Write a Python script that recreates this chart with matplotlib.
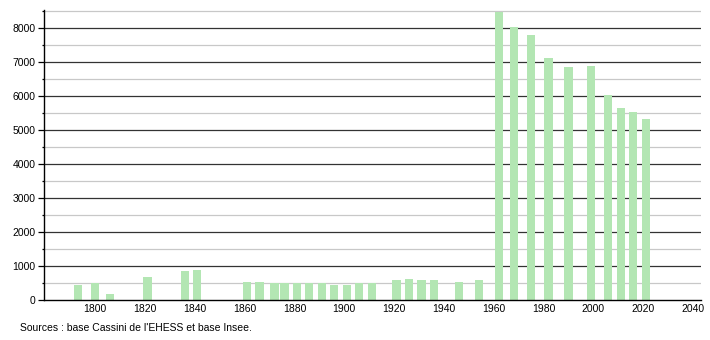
import matplotlib
matplotlib.use("Agg")
import matplotlib.pyplot as plt
from matplotlib.ticker import MultipleLocator

plt.rcParams['font.family'] = ['Liberation Sans', 'DejaVu Sans']

years = [1793, 1800, 1806, 1821, 1836, 1841, 1861, 1866, 1872, 1876, 1881,
         1886, 1891, 1896, 1901, 1906, 1911, 1921, 1926, 1931, 1936, 1946,
         1954, 1962, 1968, 1975, 1982, 1990, 1999, 2006, 2011, 2016, 2021]
population = [450, 500, 185, 694, 862, 900, 530, 538, 500, 500, 500,
              495, 500, 455, 455, 500, 500, 590, 630, 610, 590, 540,
              610, 8459, 8018, 7803, 7126, 6862, 6891, 6038, 5665, 5538, 5332]
xticks = [1800, 1820, 1840, 1860, 1880, 1900, 1920, 1940, 1960, 1980, 2000, 2020, 2040]
yticks = [0, 1000, 2000, 3000, 4000, 5000, 6000, 7000, 8000]
source = "Sources : base Cassini de l'EHESS et base Insee."

fig = plt.figure(figsize=(7.1, 3.4), dpi=100)
ax = fig.add_axes([44/710, 1-300.3/340, (701-44)/710, (300.3-10)/340])

# gridlines
for v in range(500, 8501, 1000):
    ax.axhline(v, color='#c8c8c8', lw=0.9, zorder=0)
for v in yticks[1:]:
    ax.axhline(v, color='#333333', lw=0.9, zorder=0)

ax.bar(years, population, width=3.3, color='#b3e6b3', edgecolor='none', zorder=2)

ax.set_xlim(1779.5, 2043.2)
ax.set_ylim(0, 8530)
ax.set_xticks(xticks)
ax.set_yticks(yticks)
ax.yaxis.set_minor_locator(MultipleLocator(500))
ax.tick_params(axis='x', length=0, pad=3, labelsize=7.5)
ax.tick_params(axis='y', which='major', length=4, width=0.9, pad=2, labelsize=7.5)
ax.tick_params(axis='y', which='minor', length=1.5, width=0.9)
for s in ['top', 'right']:
    ax.spines[s].set_visible(False)
ax.spines['left'].set_linewidth(1)
ax.spines['bottom'].set_linewidth(1)

fig.text(20/710, 1-328/340, source, fontsize=7.5, va='center', ha='left')

fig.savefig("out.png", dpi=100)
